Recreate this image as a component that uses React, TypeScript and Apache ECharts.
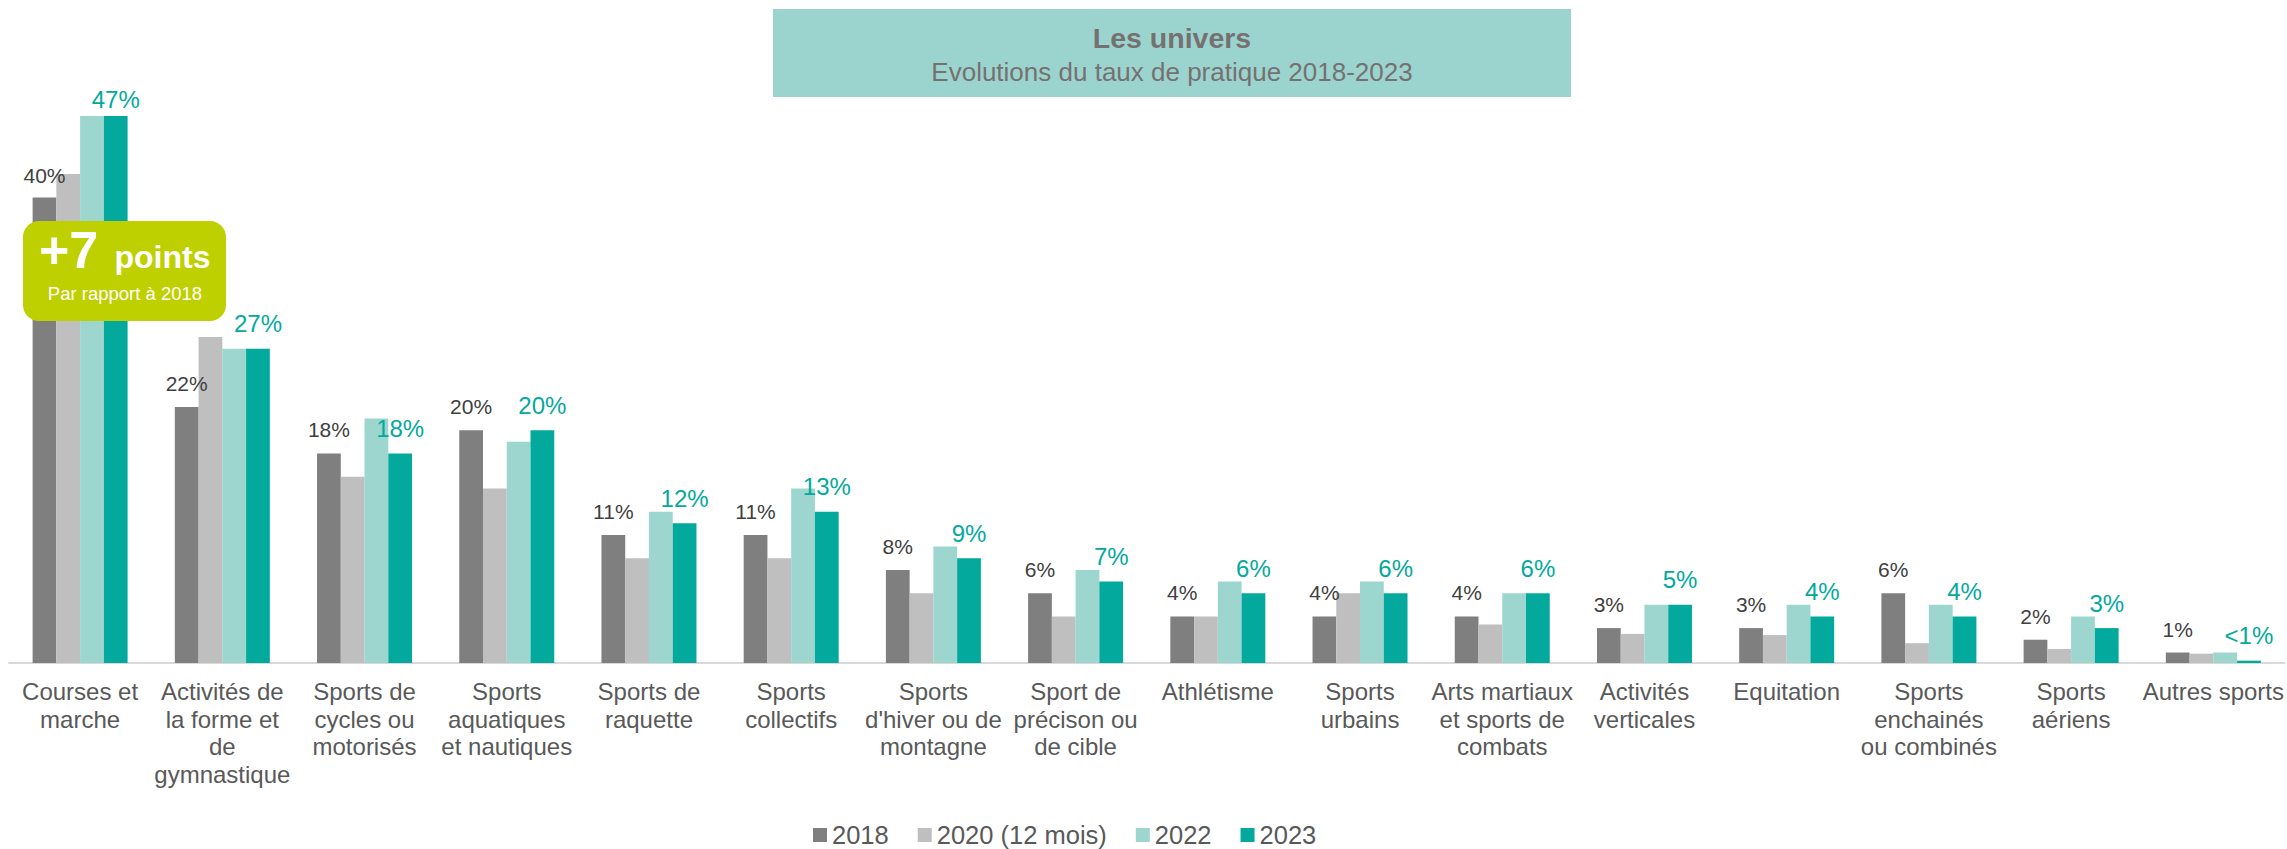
import React, { useEffect, useRef } from "react";
import * as echarts from "echarts";

const categories = [
  "Courses et\nmarche",
  "Activités de\nla forme et\nde\ngymnastique",
  "Sports de\ncycles ou\nmotorisés",
  "Sports\naquatiques\net nautiques",
  "Sports de\nraquette",
  "Sports\ncollectifs",
  "Sports\nd'hiver ou de\nmontagne",
  "Sport de\nprécison ou\nde cible",
  "Athlétisme",
  "Sports\nurbains",
  "Arts martiaux\net sports de\ncombats",
  "Activités\nverticales",
  "Equitation",
  "Sports\nenchainés\nou combinés",
  "Sports\naériens",
  "Autres sports",
];

const seriesNames = ["2018", "2020 (12 mois)", "2022", "2023"];
const v2018 = [40, 22, 18, 20, 11, 11, 8, 6, 4, 4, 4, 3, 3, 6, 2, 0.9];
const v2020 = [42, 28, 16, 15, 9, 9, 6, 4, 4, 6, 3.3, 2.5, 2.4, 1.7, 1.2, 0.8];
const v2022 = [47, 27, 21, 19, 13, 15, 10, 8, 7, 7, 6, 5, 5, 5, 4, 0.9];
const v2023 = [47, 27, 18, 20, 12, 13, 9, 7, 6, 6, 6, 5, 4, 4, 3, 0.2];

const titleText = "Les univers";
const subtitleText = "Evolutions du taux de pratique 2018-2023";
const badgeBig = "+7";
const badgeWord = "points";
const badgeSub = "Par rapport à 2018";

const FONT = "Arial, 'Liberation Sans', sans-serif";
const C2018 = "#7f7f7f";
const C2020 = "#bfbfbf";
const C2022 = "#9dd5cf";
const C2023 = "#03a99d";

const pct = (v: number) => (v > 0 && v < 0.5 ? "<1%" : Math.round(v) + "%");

export default function App() {
  const ref = useRef<HTMLDivElement>(null);
  useEffect(() => {
    if (!ref.current) return;
    const chart = echarts.init(ref.current, undefined, { renderer: "svg" });
    const barBase = { type: "bar", barWidth: 23.75, barGap: "0%" };
    chart.setOption({
      animation: false,
      backgroundColor: "#ffffff",
      textStyle: { fontFamily: FONT },
      grid: { left: 9, right: 2, top: 81, bottom: 186, containLabel: false },
      legend: {
        left: 808,
        top: 817,
        itemWidth: 14,
        itemHeight: 14,
        itemGap: 29,
        icon: "rect",
        textStyle: { fontSize: 25.5, color: "#595959", fontFamily: FONT },
        data: seriesNames,
      },
      xAxis: {
        type: "category",
        data: categories,
        axisLine: { lineStyle: { color: "#d9d9d9", width: 2 } },
        axisTick: { show: false },
        axisLabel: {
          interval: 0,
          fontSize: 24,
          lineHeight: 27.5,
          color: "#595959",
          margin: 15,
          fontFamily: FONT,
        },
      },
      yAxis: {
        type: "value",
        min: 0,
        max: 50,
        show: false,
        splitLine: { show: false },
      },
      series: [
        {
          ...barBase,
          name: seriesNames[0],
          itemStyle: { color: C2018 },
          label: {
            show: true,
            position: "top",
            distance: 13,
            fontSize: 21,
            color: "#404040",
            fontFamily: FONT,
            formatter: (p: any) => pct(p.value),
          },
          data: v2018.map((v, i) => (i === 0 ? { value: v, label: { distance: 11 } } : v)),
        },
        {
          ...barBase,
          name: seriesNames[1],
          itemStyle: { color: C2020 },
          data: v2020,
        },
        {
          ...barBase,
          name: seriesNames[2],
          itemStyle: { color: C2022 },
          data: v2022,
        },
        {
          ...barBase,
          name: seriesNames[3],
          itemStyle: { color: C2023 },
          label: {
            show: true,
            position: "top",
            distance: 13,
            fontSize: 24,
            color: C2023,
            fontFamily: FONT,
            formatter: (p: any) => pct(p.value),
          },
          data: v2023.map((v, i) => (i === 0 ? { value: v, label: { distance: 4.5 } } : v)),
        },
      ],
      graphic: [
        {
          type: "rect",
          z: 100,
          shape: { x: 773, y: 9, width: 798, height: 88 },
          style: { fill: "#9bd4ce" },
        },
        {
          type: "text",
          z: 101,
          x: 1172,
          y: 38,
          style: {
            text: titleText,
            fill: "#767171",
            font: `bold 28.5px ${FONT}`,
            textAlign: "center",
            textVerticalAlign: "middle",
          },
        },
        {
          type: "text",
          z: 101,
          x: 1172,
          y: 72,
          style: {
            text: subtitleText,
            fill: "#767171",
            font: `26px ${FONT}`,
            textAlign: "center",
            textVerticalAlign: "middle",
          },
        },
        {
          type: "rect",
          z: 100,
          shape: { x: 23, y: 221, width: 203, height: 100, r: 16 },
          style: { fill: "#bfd000" },
        },
        {
          type: "text",
          z: 101,
          x: 39,
          y: 249.5,
          style: {
            text: badgeBig,
            fill: "#ffffff",
            font: `bold 52px ${FONT}`,
            textAlign: "left",
            textVerticalAlign: "middle",
          },
        },
        {
          type: "text",
          z: 101,
          x: 114.5,
          y: 256.5,
          style: {
            text: badgeWord,
            fill: "#ffffff",
            font: `bold 32px ${FONT}`,
            textAlign: "left",
            textVerticalAlign: "middle",
          },
        },
        {
          type: "text",
          z: 101,
          x: 125,
          y: 293.6,
          style: {
            text: badgeSub,
            fill: "#ffffff",
            font: `18.5px ${FONT}`,
            textAlign: "center",
            textVerticalAlign: "middle",
          },
        },
      ],
    });
    return () => chart.dispose();
  }, []);
  return (
    <div
      ref={ref}
      style={{ position: "fixed", left: 0, top: 0, width: 2287, height: 849, background: "#fff" }}
    />
  );
}
